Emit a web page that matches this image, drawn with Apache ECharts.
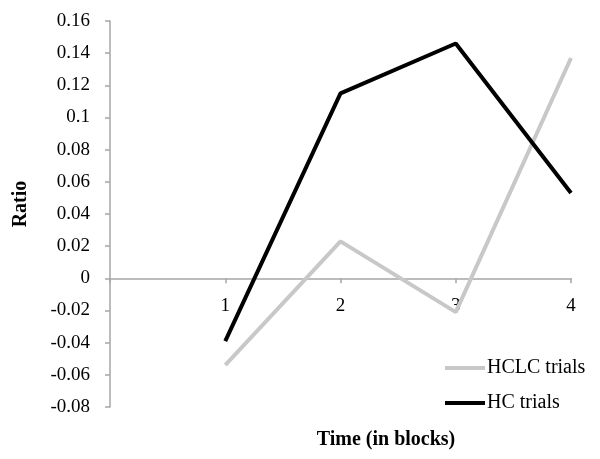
<!DOCTYPE html>
<html><head><meta charset="utf-8">
<script src="https://cdn.jsdelivr.net/npm/echarts@6/dist/echarts.min.js"></script>
<style>html,body{margin:0;padding:0;background:#fff}#c{width:600px;height:459px}</style>
</head><body><div id="c"></div>
<script>
const blocks = [1, 2, 3, 4];
const hclc = [-0.054, 0.023, -0.021, 0.137];
const hc = [-0.039, 0.115, 0.146, 0.053];
const yTicks = ['-0.08','-0.06','-0.04','-0.02','0','0.02','0.04','0.06','0.08','0.1','0.12','0.14','0.16'];
const seriesNames = ['HCLC trials', 'HC trials'];

const font = 'Liberation Serif, Times New Roman, serif';
const gridTop = 21, gridBottom = 52, H = 459;
const yMin = -0.08, yMax = 0.16;
const plotH = H - gridTop - gridBottom;
const zeroOffset = plotH * (0 - yMin) / (yMax - yMin);

const chart = echarts.init(document.getElementById('c'));
chart.setOption({
  animation: false,
  grid: {left: 110, right: 29, top: gridTop, bottom: gridBottom},
  xAxis: {
    type: 'value', min: 0, max: 4, interval: 1,
    offset: -zeroOffset,
    axisLine: {onZero: false, lineStyle: {color: '#a6a6a6', width: 1.5}},
    axisTick: {show: true, length: 5, inside: false, lineStyle: {color: '#a6a6a6', width: 1.5}},
    axisLabel: {margin: 18, color: '#000', fontFamily: font, fontSize: 19,
      formatter: (v) => blocks.indexOf(v) >= 0 ? String(v) : ''},
    splitLine: {show: false}
  },
  yAxis: {
    type: 'value', min: yMin, max: yMax, interval: 0.02,
    axisLine: {show: true, lineStyle: {color: '#a6a6a6', width: 1.5}},
    axisTick: {show: true, length: 5, lineStyle: {color: '#a6a6a6', width: 1.5}},
    axisLabel: {margin: 20, color: '#000', fontFamily: font, fontSize: 19,
      formatter: (v) => { const s = yTicks.find(t => Math.abs(parseFloat(t) - v) < 1e-9); return s !== undefined ? s : ''; }},
    splitLine: {show: false}
  },
  legend: {
    orient: 'vertical', left: 440, top: 353, itemWidth: 40, itemHeight: 4, itemGap: 15,
    icon: 'rect',
    textStyle: {fontFamily: font, fontSize: 20, color: '#000', padding: [0,0,0,-3]},
    data: seriesNames
  },
  series: [
    {name: seriesNames[0], type: 'line', symbol: 'none', lineStyle: {color: '#c8c8c8', width: 4}, itemStyle: {color: '#c8c8c8'},
     data: blocks.map((b, i) => [b, hclc[i]])},
    {name: seriesNames[1], type: 'line', symbol: 'none', lineStyle: {color: '#000', width: 4}, itemStyle: {color: '#000'},
     data: blocks.map((b, i) => [b, hc[i]])}
  ],
  graphic: [
    {type: 'text', x: 386, y: 440, style: {text: 'Time (in blocks)', font: 'bold 20px ' + font, fill: '#000', align: 'center', verticalAlign: 'middle'}},
    {type: 'text', x: 21, y: 204, rotation: Math.PI / 2, style: {text: 'Ratio', font: 'bold 20px ' + font, fill: '#000', align: 'center', verticalAlign: 'middle'}}
  ]
});
</script></body></html>
